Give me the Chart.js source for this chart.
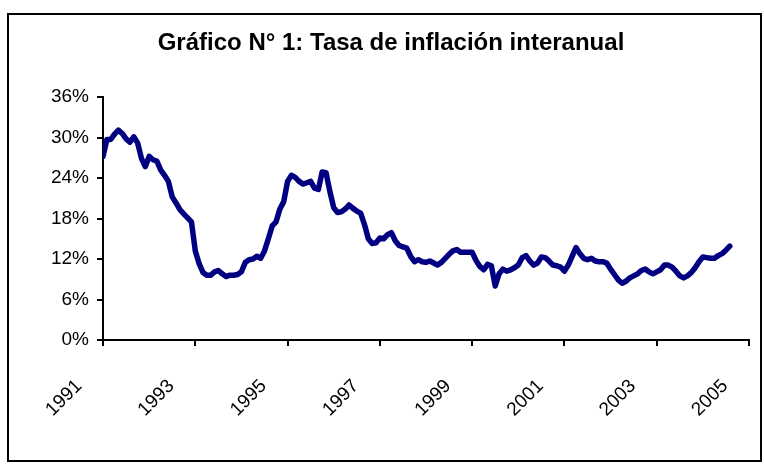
<!DOCTYPE html>
<html>
<head>
<meta charset="utf-8">
<script src="https://cdn.jsdelivr.net/npm/chart.js@4.4.0/dist/chart.umd.min.js"></script>
<style>
  html, body { margin: 0; padding: 0; background: #fff; }
  #wrap { position: relative; width: 764px; height: 464px; }
  canvas { display: block; }
</style>
</head>
<body>
<div id="wrap"><canvas id="c" width="764" height="464"></canvas></div>
<script>
// Title
const chartTitle = 'Gráfico N° 1: Tasa de inflación interanual';
// Year tick labels (every 24 months starting Jan 1991)
const yearLabels = ['1991', '1993', '1995', '1997', '1999', '2001', '2003', '2005'];
// Y tick values (percent)
const yTicks = [0, 6, 12, 18, 24, 30, 36];
// Monthly year-on-year inflation (%), Jan 1991 onward
const inflation = [
  27.2, 29.7, 29.7, 30.5, 31.1, 30.6, 29.8, 29.3, 30.1, 29.2, 26.9, 25.7,
  27.2, 26.7, 26.5, 25.2, 24.4, 23.5, 21.2, 20.3, 19.3, 18.7, 18.1, 17.5,
  13.2, 11.3, 10.0, 9.6, 9.6, 10.1, 10.3, 9.8, 9.4, 9.6, 9.6, 9.7,
  10.1, 11.5, 11.9, 12.0, 12.4, 12.1, 13.2, 15.0, 16.9, 17.5, 19.4, 20.5,
  23.5, 24.4, 24.1, 23.5, 23.1, 23.3, 23.5, 22.5, 22.3, 24.9, 24.8, 22.0,
  19.6, 18.9, 19.0, 19.4, 20.0, 19.5, 19.1, 18.8, 17.1, 15.0, 14.3, 14.4,
  15.1, 15.0, 15.6, 15.9, 14.7, 14.0, 13.8, 13.6, 12.4, 11.6, 11.9, 11.6,
  11.5, 11.7, 11.4, 11.1, 11.5, 12.1, 12.7, 13.2, 13.4, 13.0, 13.0, 13.0,
  13.0, 11.8, 10.9, 10.4, 11.2, 11.0, 8.0, 9.8, 10.5, 10.2, 10.4, 10.7,
  11.1, 12.2, 12.5, 11.7, 11.1, 11.4, 12.3, 12.2, 11.7, 11.1, 11.0, 10.8,
  10.2, 11.1, 12.4, 13.7, 12.8, 12.1, 11.9, 12.1, 11.7, 11.6, 11.6, 11.4,
  10.5, 9.7, 8.9, 8.4, 8.7, 9.2, 9.5, 9.8, 10.3, 10.5, 10.1, 9.8,
  10.1, 10.4, 11.1, 11.1, 10.8, 10.2, 9.5, 9.2, 9.5, 10.0, 10.7, 11.6,
  12.3, 12.2, 12.1, 12.1, 12.5, 12.8, 13.3, 13.9
];

const monthsPerLabel = 24;
const points = inflation.map((v, i) => ({ x: i, y: v }));

const frame = {
  id: 'frame',
  beforeDraw(chart) {
    const ctx = chart.ctx;
    ctx.save();
    ctx.fillStyle = '#fff';
    ctx.fillRect(0, 0, chart.width, chart.height);
    ctx.strokeStyle = '#000';
    ctx.lineWidth = 2;
    ctx.strokeRect(8, 14, 753, 447);
    ctx.fillStyle = '#000';
    ctx.font = 'bold 24px "Liberation Sans", Arial, sans-serif';
    ctx.textAlign = 'center';
    ctx.textBaseline = 'middle';
    ctx.fillText(chartTitle, 391, 43);
    ctx.restore();
  }
};

new Chart(document.getElementById('c'), {
  type: 'line',
  data: {
    datasets: [{
      data: points,
      borderColor: '#000080',
      borderWidth: 5.5,
      pointRadius: 0,
      tension: 0,
      borderJoinStyle: 'round',
      borderCapStyle: 'round',
      fill: false
    }]
  },
  options: {
    responsive: false,
    animation: false,
    events: [],
    layout: { padding: { top: 97, right: 15, left: 0, bottom: 0 } },
    plugins: { legend: { display: false }, title: { display: false }, tooltip: { enabled: false } },
    scales: {
      x: {
        type: 'linear',
        min: 0,
        max: monthsPerLabel * (yearLabels.length - 1),
        afterBuildTicks(scale) {
          scale.ticks = yearLabels.map((_, i) => ({ value: i * monthsPerLabel }));
        },
        afterFit(scale) {
          scale.height = 464 - 340;
          scale.paddingLeft = 0;
          scale.paddingRight = 0;
        },
        grid: { display: true, drawOnChartArea: false, drawTicks: true, tickLength: 6, color: '#000', lineWidth: 2 },
        border: { display: true, color: '#000', width: 2 },
        ticks: {
          autoSkip: false,
          minRotation: 45,
          maxRotation: 45,
          padding: 29,
          labelOffset: -24,
          color: '#000',
          font: { family: '"Liberation Sans", Arial, sans-serif', size: 19 },
          callback: (v) => yearLabels[Math.round(v / monthsPerLabel)]
        }
      },
      y: {
        min: 0,
        max: 36,
        afterBuildTicks(scale) {
          scale.ticks = yTicks.map(v => ({ value: v }));
        },
        afterFit(scale) { scale.width = 103; },
        grid: { display: true, drawOnChartArea: false, drawTicks: true, tickLength: 6, color: '#000', lineWidth: 2 },
        border: { display: true, color: '#000', width: 2 },
        ticks: {
          padding: 8,
          color: '#000',
          font: { family: '"Liberation Sans", Arial, sans-serif', size: 19 },
          callback: (v) => v + '%'
        }
      }
    }
  },
  plugins: [frame]
});
</script>
</body>
</html>
